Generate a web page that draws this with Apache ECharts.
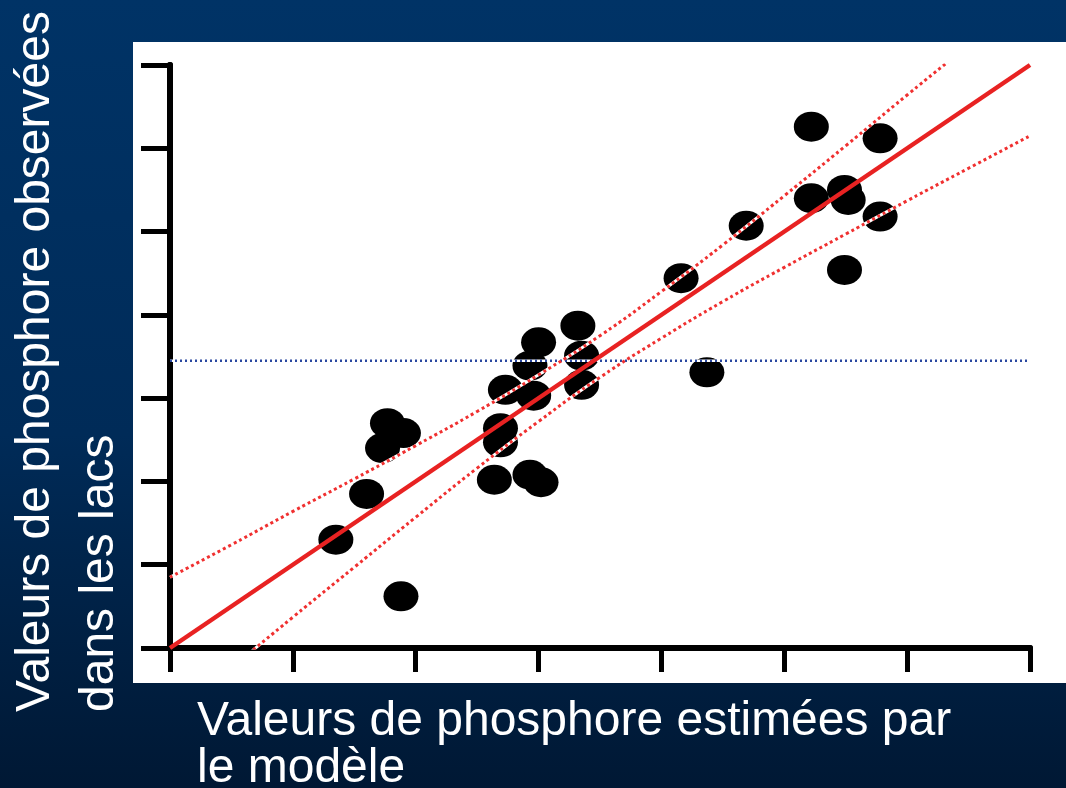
<!DOCTYPE html>
<html>
<head>
<meta charset="utf-8">
<script src="https://cdn.jsdelivr.net/npm/echarts@6/dist/echarts.min.js"></script>
<style>
html,body{margin:0;padding:0;background:#002a55;}
#chart{width:1066px;height:788px;}
</style>
</head>
<body>
<div id="chart"></div>
<script>
// Observed vs estimated phosphorus values (axis units 0..7)
const obsX = [1.35, 1.60, 1.73, 1.77, 1.90, 1.88, 2.64, 2.69, 2.69, 2.93, 3.02, 2.73, 2.96, 2.93, 3.00, 3.32, 3.35, 3.35, 4.16, 4.37, 4.69, 5.22, 5.22, 5.49, 5.52, 5.49, 5.78, 5.78];
const obsY = [1.30, 1.85, 2.40, 2.70, 2.58, 0.62, 2.02, 2.64, 2.47, 2.08, 1.99, 3.10, 3.03, 3.39, 3.67, 3.87, 3.51, 3.16, 4.44, 3.31, 5.07, 6.26, 5.40, 5.50, 5.38, 4.54, 6.12, 5.18];
// Regression (1:1) line
const fitX = [0, 7];
const fitY = [0, 7];
// Confidence band (dashed red)
const bandX = [0, 0.5, 1, 1.5, 2, 2.5, 3, 3.5, 4, 4.5, 5, 5.5, 6, 6.5, 7];
const bandUpper = [0.85, 1.24, 1.64, 2.03, 2.43, 2.84, 3.28, 3.75, 4.28, 4.84, 5.43, 6.03, 6.64, 7.24, 7.85];
const bandLower = [-0.85, -0.24, 0.37, 0.97, 1.57, 2.16, 2.72, 3.25, 3.72, 4.16, 4.57, 4.97, 5.37, 5.76, 6.15];
// Mean of observed values (dotted blue)
const meanX = [0, 7];
const meanY = [3.45, 3.45];
// Axis range / ticks
const axisMin = 0, axisMax = 7, axisStep = 1;

const xTitle1 = 'Valeurs de phosphore estimées par';
const xTitle2 = 'le modèle';
const yTitle1 = 'Valeurs de phosphore observées';
const yTitle2 = 'dans les lacs';

const pairs = (xs, ys) => xs.map((x, i) => [x, ys[i]]);

const chart = echarts.init(document.getElementById('chart'), null, {renderer: 'canvas'});
const FONT = '48px "Liberation Sans", Arial, sans-serif';

const axisLine = {show: true, lineStyle: {color: '#000', width: 6}};
const option = {
  animation: false,
  backgroundColor: {
    type: 'linear', x: 0, y: 0, x2: 0, y2: 1,
    colorStops: [
      {offset: 0, color: '#003366'},
      {offset: 0.55, color: '#002b58'},
      {offset: 1, color: '#001834'}
    ]
  },
  grid: {left: 170, top: 65, right: 36, bottom: 140, containLabel: false},
  xAxis: [
    {type: 'value', min: axisMin, max: axisMax, interval: axisStep, position: 'bottom',
     axisLine: axisLine,
     axisTick: {show: true, inside: false, length: 24, lineStyle: {color: '#000', width: 5}},
     axisLabel: {show: false}, splitLine: {show: false}},
    {type: 'value', min: axisMin, max: axisMax, interval: axisStep, position: 'top',
     axisLine: axisLine, axisTick: {show: false}, axisLabel: {show: false}, splitLine: {show: false}}
  ],
  yAxis: [
    {type: 'value', min: axisMin, max: axisMax, interval: axisStep, position: 'left',
     axisLine: axisLine,
     axisTick: {show: true, inside: false, length: 29, lineStyle: {color: '#000', width: 5}},
     axisLabel: {show: false}, splitLine: {show: false}},
    {type: 'value', min: axisMin, max: axisMax, interval: axisStep, position: 'right',
     axisLine: axisLine, axisTick: {show: false}, axisLabel: {show: false}, splitLine: {show: false}}
  ],
  graphic: [
    {type: 'rect', z: -100, silent: true, shape: {x: 133, y: 42, width: 933, height: 641}, style: {fill: '#ffffff'}},
    {type: 'text', z: 10, x: 197, y: 722, style: {text: xTitle1, font: FONT, fill: '#ffffff', align: 'left', verticalAlign: 'middle'}},
    {type: 'text', z: 10, x: 197, y: 769, style: {text: xTitle2, font: FONT, fill: '#ffffff', align: 'left', verticalAlign: 'middle'}},
    {type: 'text', z: 10, x: 36, y: 712, rotation: Math.PI / 2, style: {text: yTitle1, font: FONT, fill: '#ffffff', align: 'left', verticalAlign: 'middle'}},
    {type: 'text', z: 10, x: 100, y: 712, rotation: Math.PI / 2, style: {text: yTitle2, font: FONT, fill: '#ffffff', align: 'left', verticalAlign: 'middle'}}
  ],
  series: [
    {type: 'scatter', z: 1, data: pairs(obsX, obsY), symbol: 'circle', symbolSize: [35, 30],
     itemStyle: {color: '#000000', opacity: 1}, silent: true},
    // white underlay for dashed lines (gaps show white over points)
    {type: 'line', z: 3, data: pairs(meanX, meanY), showSymbol: false, lineStyle: {color: '#ffffff', width: 2.5}},
    {type: 'line', z: 4, data: pairs(meanX, meanY), showSymbol: false, lineStyle: {color: '#2a48a0', width: 2.5, type: [2, 3]}},
    {type: 'line', z: 3, data: pairs(bandX, bandUpper), smooth: true, showSymbol: false, lineStyle: {color: '#ffffff', width: 3}},
    {type: 'line', z: 4, data: pairs(bandX, bandUpper), smooth: true, showSymbol: false, lineStyle: {color: '#f03030', width: 3, type: [3, 3]}},
    {type: 'line', z: 3, data: pairs(bandX, bandLower), smooth: true, showSymbol: false, lineStyle: {color: '#ffffff', width: 3}},
    {type: 'line', z: 4, data: pairs(bandX, bandLower), smooth: true, showSymbol: false, lineStyle: {color: '#f03030', width: 3, type: [3, 3]}},
    {type: 'line', z: 5, data: pairs(fitX, fitY), showSymbol: false, lineStyle: {color: '#e82222', width: 4.5}}
  ]
};
chart.setOption(option);
</script>
</body>
</html>
